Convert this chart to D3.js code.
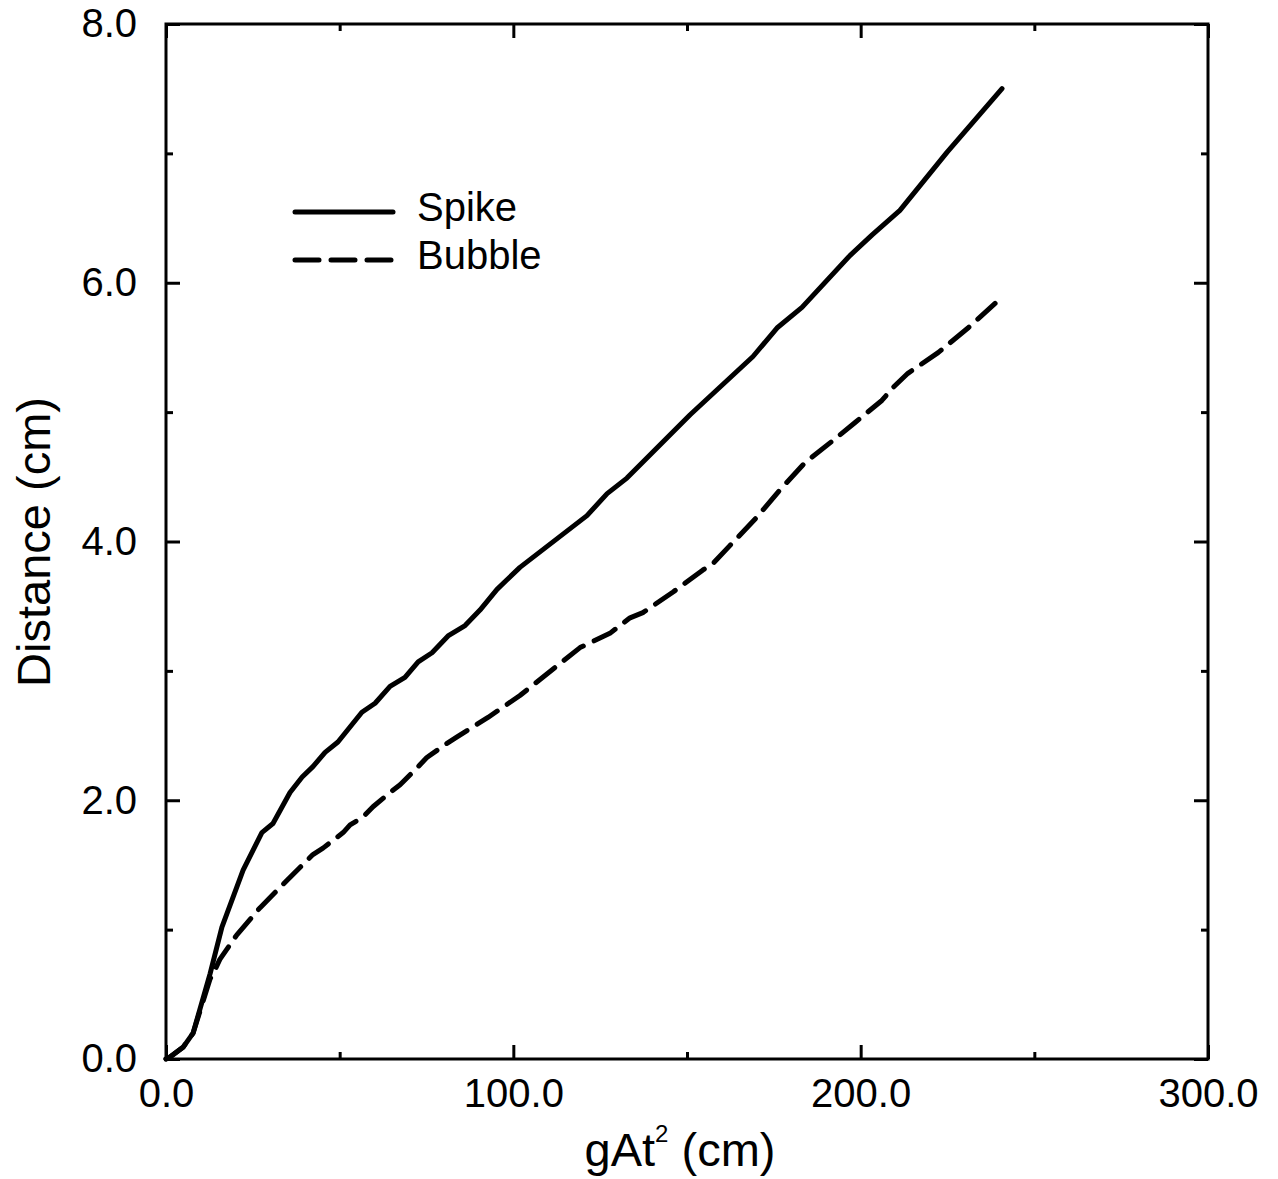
<!DOCTYPE html>
<html>
    <head>
        <meta charset="UTF-8">
        <script src="https://d3js.org/d3.v7.min.js"></script>
        <style>
            body { margin: 0; background: #fff; }
            text { font-family: "Liberation Sans", Arial, sans-serif; fill: #000; }
        </style>
    </head>

    <body>

        <svg id="canvas"></svg>

        <script>

            width = 1278;
            height = 1179;

            // values
            spikeX = [0, 1.15, 4.9, 7.8, 12.7, 16.1, 22.2, 27.6, 30.8, 35.7, 39.2, 42.3, 45.8, 49.5, 56.4, 60.2, 64.5, 68.8, 72.6, 76.6, 81.2, 86.1, 90.4, 95.3, 101.9, 121.2, 127.0, 132.7, 150.9, 169.0, 175.9, 183.1, 196.9, 203.3, 211.3, 224.9, 240.7];
            spikeY = [0, 0.015, 0.09, 0.20, 0.66, 1.02, 1.46, 1.75, 1.82, 2.06, 2.18, 2.26, 2.37, 2.45, 2.68, 2.75, 2.88, 2.95, 3.07, 3.14, 3.27, 3.35, 3.47, 3.63, 3.80, 4.20, 4.37, 4.49, 4.98, 5.43, 5.65, 5.81, 6.21, 6.37, 6.56, 7.01, 7.50];

            bubbleX = [0, 1.15, 4.9, 7.8, 12.7, 14.1, 15.5, 20.4, 27.1, 34.8, 42.3, 45.2, 48.1, 51.0, 53.0, 56.7, 59.6, 64.5, 67.4, 72.6, 75.1, 80.9, 83.8, 92.7, 101.9, 119.2, 127.8, 133.6, 137.3, 146.0, 154.6, 157.5, 162.4, 170.2, 176.8, 184.0, 192.0, 198.4, 206.1, 209.3, 213.6, 222.3, 230.9, 238.7];
            bubbleY = [0, 0.015, 0.09, 0.20, 0.62, 0.69, 0.77, 0.96, 1.17, 1.38, 1.58, 1.63, 1.69, 1.75, 1.81, 1.87, 1.95, 2.06, 2.12, 2.26, 2.33, 2.44, 2.49, 2.64, 2.81, 3.18, 3.29, 3.41, 3.45, 3.61, 3.78, 3.83, 3.97, 4.19, 4.40, 4.61, 4.78, 4.92, 5.09, 5.19, 5.30, 5.46, 5.65, 5.84];

            xMajor = [0, 100, 200, 300];
            xMinor = [50, 150, 250];
            yMajor = [0, 2, 4, 6, 8];
            yMinor = [1, 3, 5, 7];

            seriesNames = ["Spike", "Bubble"];

            left = 166; right = 1208; top_ = 24; bottom = 1059;

            canvas = d3.select("#canvas")
                .attr("width", width)
                .attr("height", height);

            x = d3.scaleLinear().domain([0, 300]).range([left, right]);
            y = d3.scaleLinear().domain([0, 8]).range([bottom, top_]);

            fmt = d3.format(".1f");

            function ticks(axis, vals, size, labels) {
                return axis.tickValues(vals).tickSizeInner(size).tickSizeOuter(0)
                    .tickPadding(labels ? 10 : 0)
                    .tickFormat(labels ? fmt : "");
            }

            function drawAxis(axis, tx, ty) {
                g = canvas.append("g")
                    .attr("transform", "translate(" + tx + "," + ty + ")")
                    .call(axis);
                g.select(".domain").remove();
                g.selectAll("line").attr("stroke", "#000").attr("stroke-width", 3);
                g.selectAll("text").style("font-size", "40px")
                    .style("font-family", "'Liberation Sans', Arial, sans-serif");
                return g;
            }

            // bottom / top
            drawAxis(ticks(d3.axisBottom(x), xMajor, -14, true), 0, bottom)
                .selectAll("text").attr("dy", "0.95em");
            drawAxis(ticks(d3.axisBottom(x), xMinor, -7, false), 0, bottom);
            drawAxis(ticks(d3.axisTop(x), xMajor, -14, false), 0, top_);
            drawAxis(ticks(d3.axisTop(x), xMinor, -7, false), 0, top_);

            // left / right
            drawAxis(ticks(d3.axisLeft(y), yMajor, -14, true), left, 0)
                .selectAll("text").attr("x", -29);
            drawAxis(ticks(d3.axisLeft(y), yMinor, -7, false), left, 0);
            drawAxis(ticks(d3.axisRight(y), yMajor, -14, false), right, 0);
            drawAxis(ticks(d3.axisRight(y), yMinor, -7, false), right, 0);

            // frame
            canvas.append("rect")
                .attr("x", left).attr("y", top_)
                .attr("width", right - left).attr("height", bottom - top_)
                .attr("fill", "none").attr("stroke", "#000").attr("stroke-width", 3);

            line = d3.line()
                .x((d) => x(d[0]))
                .y((d) => y(d[1]));

            canvas.append("path")
                .datum(d3.zip(spikeX, spikeY))
                .attr("d", line)
                .attr("fill", "none").attr("stroke", "#000")
                .attr("stroke-width", 5)
                .attr("stroke-linejoin", "round").attr("stroke-linecap", "round");

            canvas.append("path")
                .datum(d3.zip(bubbleX, bubbleY))
                .attr("d", line)
                .attr("fill", "none").attr("stroke", "#000")
                .attr("stroke-width", 5)
                .attr("stroke-dasharray", "24,12")
                .attr("stroke-linejoin", "round").attr("stroke-linecap", "round");

            // legend
            legend = canvas.append("g");
            [212, 260].forEach(function (ly, i) {
                legend.append("line")
                    .attr("x1", 295).attr("x2", 393)
                    .attr("y1", ly).attr("y2", ly)
                    .attr("stroke", "#000").attr("stroke-width", 5)
                    .attr("stroke-linecap", "round")
                    .attr("stroke-dasharray", i == 1 ? "24,12" : null);
                legend.append("text")
                    .attr("x", 417).attr("y", ly + 9)
                    .style("font-size", "40px")
                    .text(seriesNames[i]);
            });

            // axis titles
            xt = canvas.append("text")
                .attr("x", 680).attr("y", 1166)
                .attr("text-anchor", "middle")
                .style("font-size", "47px");
            xt.append("tspan").text("gAt");
            xt.append("tspan").attr("dy", -24).style("font-size", "24px").text("2");
            xt.append("tspan").attr("dy", 24).text(" (cm)");

            canvas.append("text")
                .attr("transform", "translate(50,542) rotate(-90)")
                .attr("text-anchor", "middle")
                .style("font-size", "47px")
                .text("Distance (cm)");

        </script>

    </body>

</html>
